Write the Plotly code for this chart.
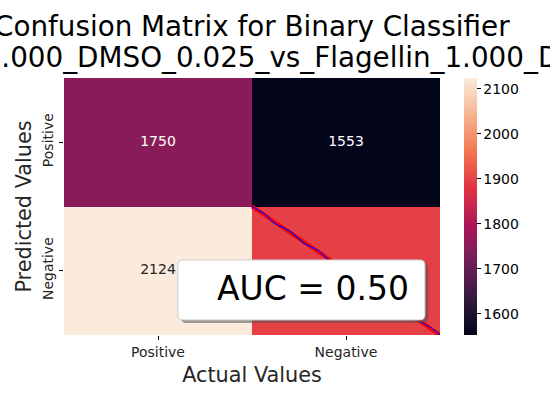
import plotly.graph_objects as go

# confusion matrix values (rows: predicted, cols: actual)
row_labels = ["Positive", "Negative"]
col_labels = ["Positive", "Negative"]
counts = [[1750, 1553],
          [2124, 1895]]
text_colors = [["white", "white"],
               ["#262626", "white"]]

# ROC curve (fpr, tpr)
fpr = [0.0, 0.06, 0.12, 0.2, 0.28, 0.35, 0.42, 0.5, 0.58, 0.66, 0.74, 0.82, 0.9, 0.96, 1.0]
tpr = [0.0, 0.05, 0.13, 0.19, 0.29, 0.34, 0.43, 0.49, 0.59, 0.65, 0.75, 0.81, 0.9, 0.95, 1.0]
auc_text = "AUC = 0.50"

title_1 = "Confusion Matrix for Binary Classifier"
title_2 = "LPS_100.000_1.000_DMSO_0.025_vs_Flagellin_1.000_DMSO_0.025"

rocket = [[0.0, "#03051a"], [1/7, "#35193e"], [2/7, "#701f57"], [3/7, "#ad1759"],
          [4/7, "#e13342"], [5/7, "#f37651"], [6/7, "#f6b48f"], [1.0, "#faebdd"]]

font = "DejaVu Sans"
centers = [0.5, 1.5]

fig = go.Figure()
fig.add_trace(go.Heatmap(
    z=counts, x=centers, y=centers, colorscale=rocket,
    zmin=min(min(r) for r in counts), zmax=max(max(r) for r in counts),
    hoverinfo="skip",
    colorbar=dict(x=1.064, xanchor="left", y=0.5, len=1, lenmode="fraction", ypad=0, xpad=0,
                  thickness=13, outlinewidth=0, ticks="outside", ticklen=4,
                  tickcolor="black", tickvals=[1600, 1700, 1800, 1900, 2000, 2100],
                  tickfont=dict(family=font, size=14, color="black")),
))

# cell numbers
tx, ty, tt, tc = [], [], [], []
for i in range(2):
    for j in range(2):
        tx.append(centers[j]); ty.append(centers[i])
        tt.append(str(counts[i][j])); tc.append(text_colors[i][j])
fig.add_trace(go.Scatter(x=tx, y=ty, text=tt, mode="text", showlegend=False,
                         textfont=dict(family=font, size=14, color=tc), hoverinfo="skip"))

# chance line and ROC curve, drawn in the lower-right cell
fig.add_trace(go.Scatter(x=[1 + v for v in [0, 1]], y=[1 + v for v in [0, 1]], mode="lines",
                         line=dict(color="red", width=4), showlegend=False, hoverinfo="skip"))
fig.add_trace(go.Scatter(x=[1 + v for v in fpr], y=[1 + v for v in tpr], mode="lines",
                         line=dict(color="blue", width=1.1), showlegend=False, hoverinfo="skip"))

# AUC box (rounded, with shadow)
def rounded(x0, y0, x1, y1, rx, ry):
    return (f"M{x0+rx},{y0} L{x1-rx},{y0} Q{x1},{y0} {x1},{y0+ry} "
            f"L{x1},{y1-ry} Q{x1},{y1} {x1-rx},{y1} L{x0+rx},{y1} "
            f"Q{x0},{y1} {x0},{y1-ry} L{x0},{y0+ry} Q{x0},{y0} {x0+rx},{y0} Z")

bx0, bx1, by0, by1 = 0.606, 1.920, 1.416, 1.883
rx, ry = 0.027, 0.039
dx, dy = 0.017, 0.024
fig.add_shape(type="path", path=rounded(bx0 + dx, by0 + dy, bx1 + dx, by1 + dy, rx, ry),
              fillcolor="rgba(80,80,80,0.55)", line=dict(width=0), layer="above")
fig.add_shape(type="path", path=rounded(bx0, by0, bx1, by1, rx, ry),
              fillcolor="white", line=dict(color="#cccccc", width=1), layer="above")
fig.add_annotation(x=1.327, y=1.64, xref="x", yref="y", text=auc_text, showarrow=False,
                   font=dict(family=font, size=33, color="black"))

# two-line title
fig.add_annotation(x=0.5, y=1.128, xref="paper", yref="paper", yanchor="bottom",
                   text=title_1, showarrow=False, font=dict(family=font, size=27.8, color="black"))
fig.add_annotation(x=0.505, y=1.008, xref="paper", yref="paper", yanchor="bottom",
                   text=title_2, showarrow=False, font=dict(family=font, size=27.8, color="black"))

fig.update_xaxes(range=[0, 2], tickvals=centers, ticktext=col_labels, ticks="outside",
                 ticklen=4, tickcolor="black", showgrid=False, zeroline=False, automargin=False,
                 tickfont=dict(family=font, size=14, color="#262626"),
                 title=dict(text="Actual Values", standoff=8,
                            font=dict(family=font, size=20.8, color="#262626")))
fig.update_yaxes(range=[2, 0], tickvals=centers, ticktext=row_labels, ticks="outside",
                 ticklen=4, tickcolor="black", showgrid=False, zeroline=False, tickangle=-90,
                 automargin=False,
                 tickfont=dict(family=font, size=14, color="#262626"),
                 title=dict(text="Predicted Values", standoff=3,
                            font=dict(family=font, size=20.8, color="#262626")))

fig.update_layout(width=550, height=400, margin=dict(l=64, r=110, t=78, b=65),
                  plot_bgcolor="white", paper_bgcolor="white", showlegend=False,
                  font=dict(family=font))

fig.write_html("out.html", config={"displayModeBar": False},
               post_script="document.body.style.margin='0';")
